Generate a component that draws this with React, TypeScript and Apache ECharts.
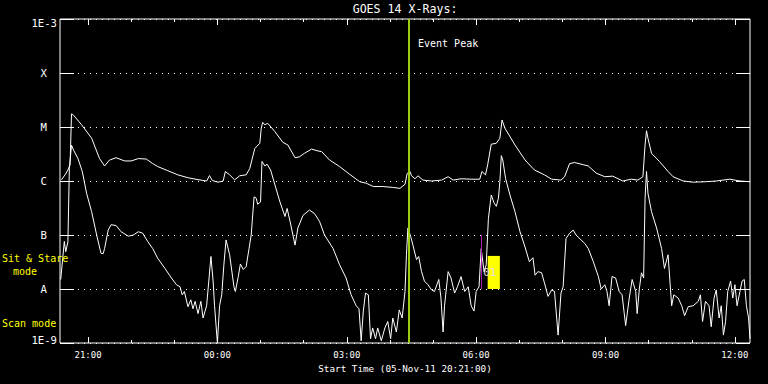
import { useEffect, useRef } from 'react';
import * as echarts from 'echarts';

// Time values are minutes after midnight of 05-Nov-11; plot starts 20:21 and spans 16 h
const START_MIN = 1221;
const SPAN_MIN = 960;

const majorTickMinutes = [1260, 1440, 1620, 1800, 1980, 2160];
const xTickLabels = ['21:00', '00:00', '03:00', '06:00', '09:00', '12:00'];
const hourTickMinutes = [1260, 1320, 1380, 1440, 1500, 1560, 1620, 1680, 1740, 1800, 1860, 1920, 1980, 2040, 2100, 2160];

const yTickExponents = [-9, -8, -7, -6, -5, -4, -3];
const yTickLabels = ['1E-9', 'A', 'B', 'C', 'M', 'X', '1E-3'];

// Long channel (upper curve): minutes after the 20:21 start, flux (W/m^2)
const longMinutes = [2, 7, 11, 14, 16, 18, 30, 44, 55, 62, 69, 78, 90, 99, 109, 120, 129, 136, 150, 164, 178, 192, 204, 208, 212, 220, 227, 230, 236, 243, 250, 259, 264, 271, 278, 280, 282, 285, 289, 299, 310, 317, 327, 333, 340, 350, 359, 364, 375, 389, 403, 417, 426, 436, 449, 463, 473, 480, 483, 487, 489, 494, 498, 505, 517, 531, 540, 547, 558, 572, 584, 587, 592, 595, 600, 607, 612, 615, 619, 633, 647, 660, 674, 684, 697, 702, 709, 716, 728, 735, 746, 758, 769, 783, 795, 804, 811, 814, 816, 818, 823, 834, 846, 853, 867, 881, 899, 913, 932, 946, 960];
const longFlux = [1.05e-6, 1.3e-6, 1.6e-6, 2.0e-6, 1.75e-5, 1.7e-5, 1.1e-5, 6.2e-6, 2.6e-6, 1.9e-6, 2.45e-6, 2.7e-6, 2.35e-6, 2.35e-6, 2.6e-6, 2.55e-6, 2.1e-6, 1.85e-6, 1.55e-6, 1.3e-6, 1.15e-6, 1.06e-6, 1.0e-6, 1.26e-6, 1.02e-6, 0.95e-6, 1.0e-6, 1.5e-6, 1.3e-6, 1.05e-6, 1.25e-6, 1.3e-6, 1.7e-6, 4.0e-6, 5.0e-6, 9.5e-6, 1.22e-5, 1.1e-5, 1.17e-5, 8.2e-6, 5.2e-6, 4.65e-6, 2.7e-6, 2.8e-6, 3.25e-6, 3.9e-6, 3.6e-6, 3.5e-6, 2.45e-6, 1.85e-6, 1.33e-6, 0.97e-6, 0.91e-6, 0.79e-6, 0.79e-6, 0.76e-6, 0.73e-6, 0.87e-6, 1.38e-6, 1.5e-6, 1.25e-6, 1.1e-6, 1.25e-6, 1.04e-6, 1.0e-6, 1.04e-6, 1.2e-6, 1.04e-6, 1.1e-6, 1.08e-6, 1.08e-6, 1.5e-6, 1.3e-6, 2.0e-6, 4.8e-6, 5.0e-6, 6.2e-6, 1.35e-5, 9.5e-6, 4.65e-6, 2.45e-6, 1.6e-6, 1.3e-6, 1.08e-6, 1.04e-6, 1.2e-6, 2.1e-6, 2.2e-6, 2.0e-6, 1.9e-6, 1.4e-6, 1.2e-6, 1.23e-6, 1.0e-6, 1.08e-6, 1.04e-6, 1.2e-6, 4.65e-6, 8.5e-6, 6.2e-6, 3.25e-6, 2.3e-6, 1.5e-6, 1.2e-6, 1.0e-6, 0.95e-6, 0.97e-6, 1.0e-6, 1.08e-6, 1.0e-6, 0.97e-6];

// Short channel (lower curve)
const shortMinutes = [1, 6, 8, 11, 13, 16, 19, 25, 31, 37, 44, 51, 57, 60, 62, 67, 71, 78, 85, 95, 102, 109, 115, 122, 129, 136, 146, 155, 162, 167, 170, 173, 178, 182, 185, 188, 192, 196, 199, 204, 210, 213, 215, 219, 222, 225, 228, 231, 236, 242, 244, 248, 251, 255, 259, 263, 266, 270, 273, 275, 279, 281, 285, 288, 293, 299, 306, 313, 316, 320, 327, 331, 338, 347, 354, 361, 368, 380, 389, 398, 405, 412, 416, 419, 422, 425, 429, 432, 435, 439, 442, 447, 452, 456, 460, 463, 468, 472, 476, 480, 482, 484, 488, 491, 496, 499, 503, 507, 512, 517, 521, 527, 530, 533, 535, 540, 544, 549, 553, 558, 563, 568, 572, 576, 579, 583, 586, 590, 593, 596, 600, 604, 607, 610, 612, 614, 616, 620, 626, 633, 640, 647, 653, 658, 661, 665, 670, 674, 679, 684, 688, 693, 697, 700, 704, 709, 714, 718, 725, 730, 735, 742, 749, 753, 758, 761, 764, 768, 773, 778, 782, 787, 792, 796, 801, 803, 806, 809, 812, 814, 816, 818, 823, 830, 837, 841, 846, 851, 854, 860, 865, 869, 874, 881, 888, 891, 894, 898, 903, 906, 910, 913, 917, 920, 923, 926, 929, 933, 936, 939, 942, 946, 949, 952, 955, 958, 960];
const shortFlux = [1.5e-8, 7.6e-8, 4.9e-8, 7.5e-8, 1.7e-6, 4.6e-6, 3.7e-6, 2.6e-6, 1.5e-6, 5.9e-7, 2.7e-7, 1.0e-7, 4.6e-8, 4.5e-8, 5.6e-8, 1.23e-7, 1.55e-7, 1.5e-7, 1.15e-7, 9.5e-8, 1.0e-7, 1.15e-7, 1.08e-7, 7.6e-8, 5.6e-8, 3.7e-8, 2.4e-8, 1.6e-8, 1.2e-8, 1.1e-8, 7.8e-9, 9e-9, 4.7e-9, 6.3e-9, 4.3e-9, 5.9e-9, 3.5e-9, 5.9e-9, 2.9e-9, 4.9e-9, 4.0e-8, 1.4e-8, 4.9e-9, 1e-9, 4.9e-9, 7.8e-9, 2.8e-8, 8.1e-8, 4.3e-8, 1.1e-8, 9e-9, 1.7e-8, 2.9e-8, 2.3e-8, 2.6e-8, 5.6e-8, 1.0e-7, 5.1e-7, 4.8e-7, 3.7e-7, 4.1e-7, 2.3e-6, 1.9e-6, 2.05e-6, 1.6e-6, 8.5e-7, 4.1e-7, 2.2e-7, 3.1e-7, 1.8e-7, 6.5e-8, 1.35e-7, 2.3e-7, 2.9e-7, 2.5e-7, 1.8e-7, 1.0e-7, 5.6e-8, 2.8e-8, 1.6e-8, 7.8e-9, 4.9e-9, 4.3e-9, 1.1e-9, 3.9e-9, 8.4e-9, 7.8e-9, 1.2e-9, 1.9e-9, 1.2e-9, 1.9e-9, 1.1e-9, 1.9e-9, 2.5e-9, 1.2e-9, 2.9e-9, 1.6e-9, 4.1e-9, 2.9e-9, 9e-9, 4.3e-8, 1.35e-7, 9.3e-8, 6.5e-8, 3.5e-8, 4.0e-8, 2.1e-8, 1.4e-8, 1.2e-8, 9.6e-9, 9e-9, 1.5e-8, 6.8e-9, 1.6e-9, 4.9e-9, 2.1e-8, 1.6e-8, 8.4e-9, 1.1e-8, 1.7e-8, 9e-9, 1.1e-8, 4.9e-9, 3.9e-9, 9e-9, 1.1e-8, 5.6e-8, 2.1e-8, 2.8e-8, 2.0e-7, 5.5e-7, 3.9e-7, 3.4e-7, 4.8e-7, 9.8e-7, 2.95e-6, 2.45e-6, 1.1e-6, 5.5e-7, 2.7e-7, 1.15e-7, 6e-8, 3.2e-8, 3.8e-8, 1.8e-8, 2.1e-8, 2.0e-8, 1.3e-8, 7.3e-9, 9.6e-9, 9e-9, 1.4e-9, 8.4e-9, 1.1e-8, 8.6e-8, 1.08e-7, 1.23e-7, 1.0e-7, 8.1e-8, 7.0e-8, 5.6e-8, 3.2e-8, 1.7e-8, 1.0e-8, 1.2e-8, 9e-9, 4.9e-9, 1.7e-8, 1.6e-8, 9e-9, 7.8e-9, 2.1e-9, 6.8e-9, 1.5e-8, 9e-9, 3.5e-9, 1.0e-8, 2.0e-8, 1.6e-8, 4.8e-7, 1.5e-6, 5.9e-7, 2.7e-7, 1.35e-7, 5.6e-8, 2.4e-8, 4.3e-8, 4.9e-9, 7.8e-9, 6.8e-9, 4.9e-9, 3.2e-9, 4.7e-9, 4.9e-9, 5.9e-9, 7.8e-9, 2.5e-9, 5.9e-9, 4.9e-9, 2e-9, 6.8e-9, 9.6e-9, 2.9e-9, 4.9e-9, 1.4e-9, 2.5e-9, 9e-9, 1.4e-8, 6.8e-9, 1.2e-8, 4.9e-9, 9e-9, 1.4e-8, 1.5e-8, 4.9e-9, 2.9e-9, 1.2e-9];

// Annotations
const eventPeakMinute = 1706; // 04:26
const scanLineMinute = 1807;
const scanLineFlux = [1e-8, 1e-7];
const scanBoxMinutes = [1816, 1833];
const scanBoxFlux = [1e-8, 4.1e-8];

const FONT = "'DejaVu Sans Mono', 'Liberation Mono', monospace";

export default function App() {
  const ref = useRef<HTMLDivElement>(null);
  useEffect(() => {
    if (!ref.current) return;
    const chart = echarts.init(ref.current, null, { renderer: 'svg' });

    const longData = longMinutes.map((m, i) => [START_MIN + m, longFlux[i]]);
    const shortData = shortMinutes.map((m, i) => [START_MIN + m, shortFlux[i]]);

    const xBase = {
      type: 'value',
      min: START_MIN,
      max: START_MIN + SPAN_MIN,
      axisLine: { show: false, onZero: false },
      splitLine: { show: false },
    };
    const tickStyle = { color: '#fff', width: 1 };

    const yLabel = (v: number) => {
      const e = Math.round(Math.log10(v));
      const i = yTickExponents.indexOf(e);
      if (i < 0) return '';
      const t = yTickLabels[i];
      if (e === -3) return '{top|' + t + '}';
      if (e === -9) return '{bot|' + t + '}';
      return '{l|' + t + '}';
    };

    const option: any = {
      animation: false,
      backgroundColor: '#000',
      grid: {
        left: 60, top: 19, right: 18, bottom: 41,
        show: true, borderColor: '#fff', borderWidth: 1, backgroundColor: 'transparent',
      },
      xAxis: [
        {
          ...xBase,
          position: 'bottom',
          axisTick: { show: true, inside: true, length: 6, lineStyle: tickStyle, customValues: majorTickMinutes },
          axisLabel: {
            show: true,
            customValues: majorTickMinutes,
            formatter: (v: number) => {
              const i = majorTickMinutes.indexOf(Math.round(v));
              return i >= 0 ? xTickLabels[i] : '';
            },
            color: '#fff', fontFamily: FONT, fontSize: 9, margin: 7,
          },
        },
        {
          ...xBase,
          position: 'bottom',
          axisTick: { show: true, inside: true, length: 3, lineStyle: tickStyle, customValues: hourTickMinutes },
          axisLabel: { show: false },
        },
        {
          ...xBase,
          position: 'top',
          axisTick: { show: true, inside: true, length: 6, lineStyle: tickStyle, customValues: majorTickMinutes },
          axisLabel: { show: false },
        },
        {
          ...xBase,
          position: 'top',
          axisTick: { show: true, inside: true, length: 3, lineStyle: tickStyle, customValues: hourTickMinutes },
          axisLabel: { show: false },
        },
      ],
      yAxis: [
        {
          type: 'log', logBase: 10, min: 1e-9, max: 1e-3, position: 'left',
          axisLine: { show: false },
          axisTick: { show: true, inside: true, length: 14, lineStyle: tickStyle },
          splitLine: { show: true, lineStyle: { color: '#fff', width: 1, type: [1, 5] } },
          axisLabel: {
            show: true, margin: 3, color: '#fff', fontFamily: FONT, fontSize: 10.6,
            formatter: yLabel,
            rich: {
              top: { color: '#fff', fontFamily: FONT, fontSize: 10.6, padding: [7, 0, 0, 0] },
              bot: { color: '#fff', fontFamily: FONT, fontSize: 10.6, padding: [0, 0, 6, 0] },
              l: { color: '#fff', fontFamily: FONT, fontSize: 10.6, padding: [0, 10, 0, 0] },
            },
          },
        },
        {
          type: 'log', logBase: 10, min: 1e-9, max: 1e-3, position: 'right',
          axisLine: { show: false },
          axisTick: { show: true, inside: true, length: 14, lineStyle: tickStyle },
          splitLine: { show: false },
          axisLabel: { show: false },
        },
      ],
      series: [
        {
          name: 'Short',
          type: 'line', xAxisIndex: 0, yAxisIndex: 0,
          data: shortData, showSymbol: false, symbol: 'none', silent: true,
          lineStyle: { color: '#fff', width: 1 },
          z: 3,
        },
        {
          name: 'Long',
          type: 'line', xAxisIndex: 0, yAxisIndex: 0,
          data: longData, showSymbol: false, symbol: 'none', silent: true,
          lineStyle: { color: '#fff', width: 1 },
          z: 3,
          markArea: {
            silent: true,
            itemStyle: { color: '#ffff00', opacity: 1 },
            label: {
              show: true, position: 'inside', formatter: '01', color: '#e0e0e0',
              fontFamily: FONT, fontSize: 11, offset: [-4, 0],
            },
            data: [[
              { coord: [scanBoxMinutes[0], scanBoxFlux[0]] },
              { coord: [scanBoxMinutes[1], scanBoxFlux[1]] },
            ]],
          },
          markLine: {
            silent: true,
            symbol: ['none', 'none'],
            label: { show: false },
            data: [
              { xAxis: eventPeakMinute, lineStyle: { color: '#9ccc14', width: 2, type: 'solid' } },
              [
                { coord: [scanLineMinute, scanLineFlux[0]], lineStyle: { color: '#b020b0', width: 1, type: 'solid' } },
                { coord: [scanLineMinute, scanLineFlux[1]] },
              ],
            ],
          },
        },
      ],
      graphic: [
        { type: 'text', x: 405, y: 9, style: { text: 'GOES 14 X-Rays:', fill: '#fff', font: '11.6px ' + FONT, textAlign: 'center', textVerticalAlign: 'middle' } },
        { type: 'text', x: 418, y: 43, style: { text: 'Event Peak', fill: '#fff', font: '10px ' + FONT, textAlign: 'left', textVerticalAlign: 'middle' } },
        { type: 'text', x: 405, y: 368, style: { text: 'Start Time (05-Nov-11 20:21:00)', fill: '#fff', font: '9.3px ' + FONT, textAlign: 'center', textVerticalAlign: 'middle' } },
        { type: 'text', x: 2, y: 258, z: 10, style: { text: 'Sit & Stare', fill: '#ffff00', font: '10px ' + FONT, textAlign: 'left', textVerticalAlign: 'middle' } },
        { type: 'text', x: 13, y: 271, z: 10, style: { text: 'mode', fill: '#ffff00', font: '10px ' + FONT, textAlign: 'left', textVerticalAlign: 'middle' } },
        { type: 'text', x: 2, y: 323, z: 10, style: { text: 'Scan mode', fill: '#ffff00', font: '10px ' + FONT, textAlign: 'left', textVerticalAlign: 'middle' } },
      ],
    };

    chart.setOption(option);
    return () => chart.dispose();
  }, []);

  return (
    <div
      ref={ref}
      style={{ position: 'fixed', left: 0, top: 0, width: 768, height: 384, background: '#000' }}
    />
  );
}
